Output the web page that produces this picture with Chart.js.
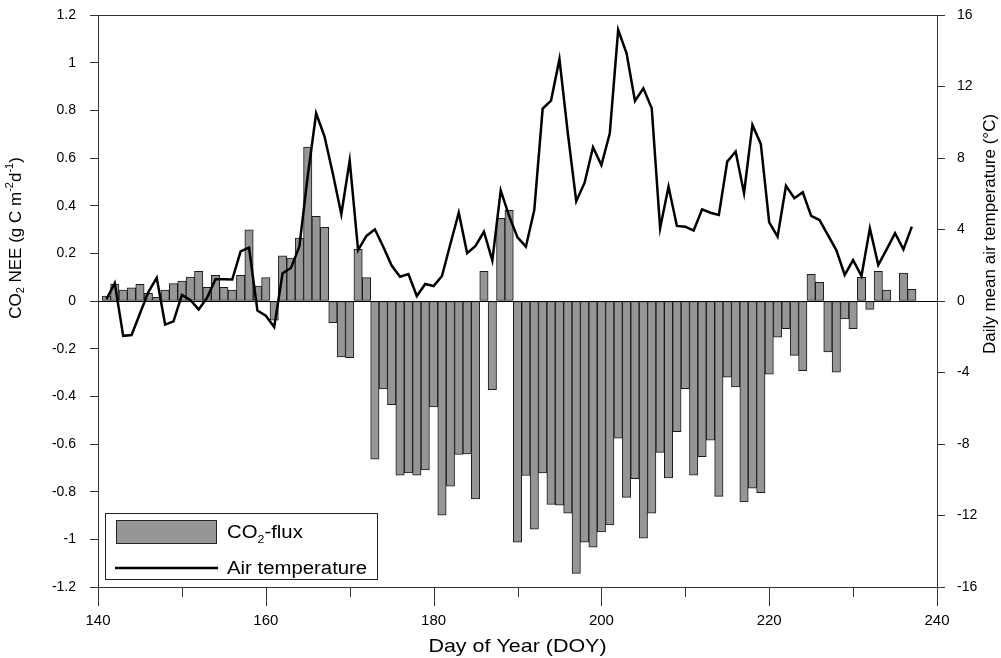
<!DOCTYPE html>
<html>
<head>
<meta charset="utf-8">
<script src="https://cdn.jsdelivr.net/npm/chart.js@4.4.1/dist/chart.umd.min.js"></script>
<style>
  html, body { margin: 0; padding: 0; background: #fff; }
  #wrap { width: 1001px; height: 658px; }
</style>
</head>
<body>
<div id="wrap"><canvas id="c" width="1001" height="658"></canvas></div>
<script>
// -------------------------
// Data
// -------------------------
const days = [141, 142, 143, 144, 145, 146, 147, 148, 149, 150,
  151, 152, 153, 154, 155, 156, 157, 158, 159, 160,
  161, 162, 163, 164, 165, 166, 167, 168, 169, 170,
  171, 172, 173, 174, 175, 176, 177, 178, 179, 180,
  181, 182, 183, 184, 185, 186, 187, 188, 189, 190,
  191, 192, 193, 194, 195, 196, 197, 198, 199, 200,
  201, 202, 203, 204, 205, 206, 207, 208, 209, 210,
  211, 212, 213, 214, 215, 216, 217, 218, 219, 220,
  221, 222, 223, 224, 225, 226, 227, 228, 229, 230,
  231, 232, 233, 234, 235, 236, 237];

// CO2 NEE, g C m-2 d-1
const co2Flux = [0.021, 0.071, 0.046, 0.055, 0.070, 0.032, 0.015, 0.046, 0.073, 0.084,
  0.100, 0.124, 0.057, 0.108, 0.057, 0.046, 0.108, 0.299, 0.063, 0.098,
  -0.080, 0.190, 0.180, 0.264, 0.646, 0.355, 0.309, -0.091, -0.235, -0.238,
  0.217, 0.098, -0.664, -0.369, -0.435, -0.731, -0.721, -0.731, -0.709, -0.444,
  -0.899, -0.777, -0.644, -0.642, -0.830, 0.124, -0.372, 0.347, 0.380, -1.012,
  -0.732, -0.957, -0.721, -0.854, -0.857, -0.890, -1.143, -1.012, -1.033, -0.969,
  -0.939, -0.576, -0.824, -0.745, -0.995, -0.890, -0.635, -0.742, -0.548, -0.368,
  -0.731, -0.653, -0.584, -0.820, -0.320, -0.361, -0.843, -0.785, -0.804, -0.307,
  -0.152, -0.116, -0.228, -0.292, 0.112, 0.078, -0.214, -0.299, -0.075, -0.116,
  0.099, -0.035, 0.124, 0.046, -0.004, 0.117, 0.049];

// daily mean air temperature, deg C
const airTemp = [0.1, 1.0, -1.95, -1.9, -0.7, 0.5, 1.3, -1.32, -1.14, 0.34,
  0.06, -0.47, 0.18, 1.22, 1.22, 1.2, 2.78, 2.99, -0.53, -0.82,
  -1.46, 1.55, 1.85, 3.05, 7.0, 10.5, 9.2, 7.1, 4.85, 7.85,
  2.85, 3.64, 4.01, 3.04, 1.98, 1.36, 1.51, 0.28, 0.95, 0.84,
  1.4, 3.19, 4.94, 2.67, 3.08, 3.88, 2.26, 6.18, 4.76, 3.56,
  3.04, 5.09, 10.76, 11.21, 13.53, 9.38, 5.58, 6.62, 8.6, 7.6,
  9.38, 15.17, 13.86, 11.19, 11.9, 10.78, 4.07, 6.4, 4.2, 4.16,
  3.94, 5.13, 4.94, 4.81, 7.8, 8.36, 6.03, 9.85, 8.79, 4.4,
  3.6, 6.44, 5.75, 6.08, 4.76, 4.53, 3.69, 2.85, 1.46, 2.29,
  1.4, 4.07, 2.01, 2.89, 3.79, 2.89, 4.16];

const majorTicks = [140, 160, 180, 200, 220, 240];
const minorTicks = [150, 170, 190, 210, 230];

const FONT = 'Liberation Sans, Arial, Helvetica, sans-serif';
const BAR_GREY = '#969696';
const AXIS = '#333';
const SX = 1.13; // the reference text is a little wide

// -------------------------
// Helpers
// -------------------------
// parts: [[text, 'n' | 'sub' | 'sup'], ...]
function richWidth(ctx, parts, size) {
  let w = 0;
  parts.forEach(([t, k]) => {
    ctx.font = (k === 'n' ? size : Math.round(size * 0.62)) + 'px ' + FONT;
    w += ctx.measureText(t).width;
  });
  return w;
}

function drawRich(ctx, parts, x, y, size) {
  let cx = x;
  parts.forEach(([t, k]) => {
    let dy = 0, s = size;
    if (k === 'sub') { s = Math.round(size * 0.62); dy = size * 0.28; }
    if (k === 'sup') { s = Math.round(size * 0.62); dy = -size * 0.38; }
    ctx.font = s + 'px ' + FONT;
    ctx.fillText(t, cx, y + dy);
    cx += ctx.measureText(t).width;
  });
}

// wide text: draw at (x, y) stretched horizontally
function wideText(ctx, draw, x, y) {
  ctx.save();
  ctx.translate(x, y);
  ctx.scale(SX, 1);
  draw();
  ctx.restore();
}

// y axes: fixed width, no extra room for the end labels
function fixY(width) {
  return s => { s.width = width; s.paddingTop = 0; s.paddingBottom = 0; };
}

// -------------------------
// Frame, x ticks, titles, legend
// -------------------------
const decorations = {
  id: 'decorations',
  afterDraw(chart) {
    const { ctx, chartArea: a, scales } = chart;
    ctx.save();
    ctx.strokeStyle = AXIS;
    ctx.lineWidth = 1;
    ctx.strokeRect(a.left + 0.5, a.top + 0.5, a.right - a.left, a.bottom - a.top);

    const tick = (d, len) => {
      const px = Math.round(scales.x.getPixelForValue(d)) + 0.5;
      ctx.beginPath();
      ctx.moveTo(px, a.bottom);
      ctx.lineTo(px, a.bottom + len);
      ctx.stroke();
    };
    majorTicks.forEach(d => tick(d, 19));
    minorTicks.forEach(d => tick(d, 10));

    ctx.fillStyle = '#000';

    // x title
    ctx.textBaseline = 'middle';
    ctx.textAlign = 'center';
    wideText(ctx, () => {
      ctx.font = '19px ' + FONT;
      ctx.fillText('Day of Year (DOY)', 0, 0);
    }, (a.left + a.right) / 2, 647);

    // left title
    const leftParts = [['CO', 'n'], ['2', 'sub'], [' NEE (g C m', 'n'], ['-2', 'sup'], ['d', 'n'], ['-1', 'sup'], [')', 'n']];
    ctx.textAlign = 'left';
    ctx.save();
    ctx.translate(16, 238);
    ctx.rotate(-Math.PI / 2);
    drawRich(ctx, leftParts, -richWidth(ctx, leftParts, 17) / 2, 0, 17);
    ctx.restore();

    // right title
    ctx.save();
    ctx.translate(990, 234);
    ctx.rotate(-Math.PI / 2);
    ctx.font = '17px ' + FONT;
    ctx.textAlign = 'center';
    ctx.fillText('Daily mean air temperature (\u00B0C)', 0, 0);
    ctx.restore();

    // legend
    ctx.fillStyle = '#fff';
    ctx.fillRect(105.5, 513.5, 272, 66);
    ctx.strokeStyle = '#222';
    ctx.strokeRect(105.5, 513.5, 272, 66);
    ctx.fillStyle = BAR_GREY;
    ctx.fillRect(116.5, 520.5, 100, 23);
    ctx.strokeRect(116.5, 520.5, 100, 23);
    ctx.beginPath();
    ctx.lineWidth = 2.5;
    ctx.strokeStyle = '#000';
    ctx.moveTo(115, 568);
    ctx.lineTo(218, 568);
    ctx.stroke();
    ctx.fillStyle = '#000';
    ctx.textAlign = 'left';
    ctx.textBaseline = 'alphabetic';
    wideText(ctx, () => {
      drawRich(ctx, [['CO', 'n'], ['2', 'sub'], ['-flux', 'n']], 0, 0, 18);
    }, 227, 538);
    wideText(ctx, () => {
      ctx.font = '18px ' + FONT;
      ctx.fillText('Air temperature', 0, 0);
    }, 227, 574);
    ctx.restore();
  }
};

// -------------------------
// Chart
// -------------------------
Chart.defaults.font.family = FONT;
Chart.defaults.color = '#000';

const plainNum = v => String(Number(v.toFixed(1)));

new Chart(document.getElementById('c'), {
  type: 'bar',
  data: {
    datasets: [
      {
        type: 'line',
        label: 'Air temperature',
        data: days.map((d, i) => ({ x: d, y: airTemp[i] })),
        yAxisID: 'y2',
        borderColor: '#000',
        borderWidth: 2.5,
        pointRadius: 0,
        tension: 0,
        order: 0
      },
      {
        type: 'bar',
        label: 'CO2-flux',
        data: days.map((d, i) => ({ x: d, y: co2Flux[i] })),
        yAxisID: 'y',
        backgroundColor: BAR_GREY,
        borderColor: '#1a1a1a',
        borderWidth: 1,
        borderSkipped: false,
        barPercentage: 1,
        categoryPercentage: 1,
        order: 1
      }
    ]
  },
  options: {
    responsive: false,
    animation: false,
    layout: { padding: { top: 15, left: 0, right: 0, bottom: 0 } },
    plugins: { legend: { display: false }, tooltip: { enabled: false } },
    scales: {
      x: {
        type: 'linear',
        min: 140, max: 240,
        offset: false,
        ticks: { stepSize: 20, font: { size: 15 }, padding: 6, maxRotation: 0 },
        grid: { drawOnChartArea: false, tickLength: 19, tickColor: 'rgba(0,0,0,0)', color: 'rgba(0,0,0,0)' },
        border: { color: AXIS },
        afterFit: s => { s.height = 71; s.paddingLeft = 0; s.paddingRight = 0; }
      },
      y: {
        position: 'left',
        min: -1.2, max: 1.2,
        ticks: { stepSize: 0.2, font: { size: 14 }, padding: 14, callback: plainNum },
        grid: {
          tickLength: 8,
          tickColor: AXIS,
          color: c => (c.tick && Math.abs(c.tick.value) < 1e-9) ? '#000' : 'rgba(0,0,0,0)'
        },
        border: { color: AXIS },
        afterFit: fixY(98)
      },
      y2: {
        position: 'right',
        min: -16, max: 16,
        ticks: { stepSize: 4, font: { size: 14 }, padding: 12 },
        grid: { drawOnChartArea: false, tickLength: 8, color: AXIS },
        border: { color: AXIS },
        afterFit: fixY(64)
      }
    }
  },
  plugins: [decorations]
});
</script>
</body>
</html>
